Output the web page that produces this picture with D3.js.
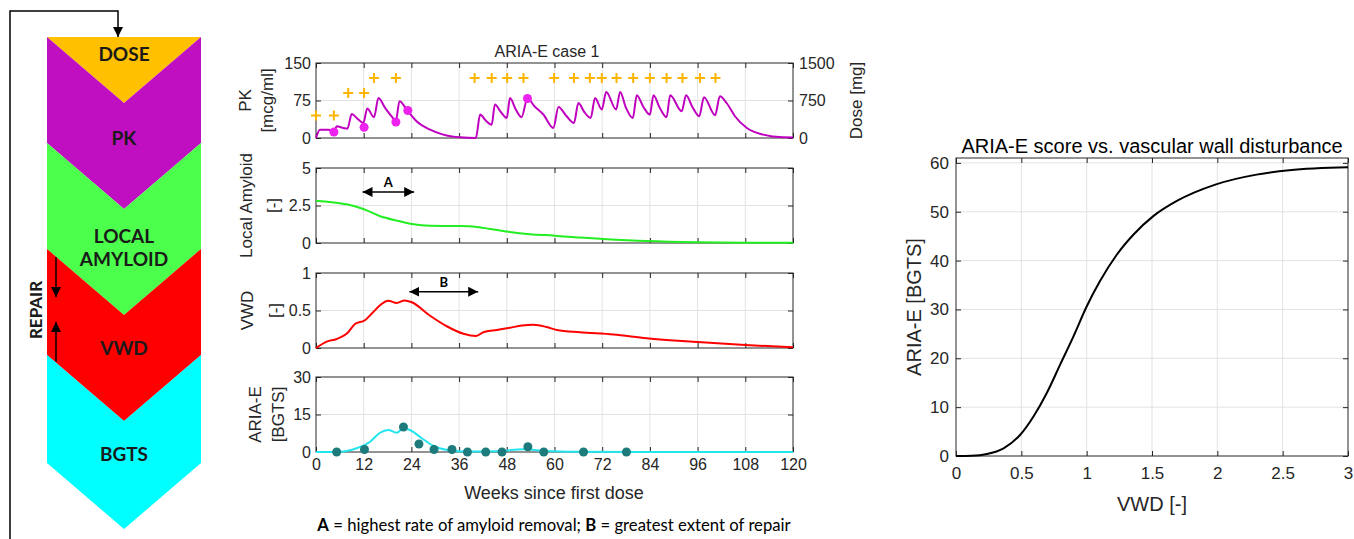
<!DOCTYPE html>
<html><head><meta charset="utf-8">
<script src="https://cdn.jsdelivr.net/npm/d3@7"></script>
<style>
body{margin:0;background:#fff;}
svg{display:block;font-family:"Liberation Sans",Arial,sans-serif;}
</style></head><body>
<svg id="fig" width="1354" height="539"></svg>
<script>
// ---- data ----
const flowLabels = [["DOSE"], ["PK"], ["LOCAL", "AMYLOID"], ["VWD"], ["BGTS"]];
const flowColors = ["#FFC000", "#C00FC0", "#4CFF4C", "#FF0000", "#00FFFF"];

const weekTicks = [0, 12, 24, 36, 48, 60, 72, 84, 96, 108, 120];

const doseWeek = [0, 4.5, 8.1, 12.1, 14.6, 20.1, 39.9, 44.2, 48.1, 52.2, 59.9, 64.9, 68.9, 71.9, 75.6, 79.8, 84, 88.2, 92.2, 96.6, 100.5];
const doseMg = [450, 450, 900, 900, 1200, 1200, 1200, 1200, 1200, 1200, 1200, 1200, 1200, 1200, 1200, 1200, 1200, 1200, 1200, 1200, 1200];

const pkWeek = [0, 1.0, 3.1, 4.5, 5.2, 6.9, 7.9, 9.0, 10.4, 11.9, 12.9, 14.6, 15.7, 17.4, 19.0, 20.1, 21.0, 22.8, 25.3, 28.7, 32, 36.2, 40.2,
  41.3, 42.7, 44.2, 45.0, 46.5, 48.0, 48.8, 50.2, 51.7, 53.2, 55.0, 57.2, 59.7, 61.0, 63.0, 64.9, 66.0, 67.5, 69.1, 70.2,
  71.9, 73.0, 75.5, 76.5, 78.0, 79.7, 80.7, 82.3, 84.0, 84.9, 86.5, 88.2, 89.1, 92.0, 93.1, 94.7, 96.4, 97.6, 100.4, 101.6,
  103.3, 105.4, 108.4, 112.5, 117.5, 120];
const pkConc = [0, 16.7, 16.7, 12, 23.4, 20, 18.7, 48, 38.7, 30, 59, 41.6, 80, 60, 43.5, 35, 73.5, 57, 33.5, 16.7, 6.7, 1.3, 0,
  46.8, 35, 26.7, 67, 52, 40, 80, 58, 41.6, 79, 63, 47, 20, 62, 44, 30, 70, 52, 40, 80,
  57, 92, 57, 92, 60, 40, 85.6, 63, 46.8, 85.6, 60, 41.6, 85.6, 53.5, 85.6, 62, 43.5, 81.6, 45.5, 83.6,
  70, 43.5, 20, 6.7, 1.3, 1];
const pkObsWeek = [4.5, 12.1, 20.1, 23.1, 53.2];
const pkObs = [12, 21.4, 32, 55, 79];

const amyWeek = [0, 4, 7.7, 11.9, 16, 20.3, 24.1, 28.7, 35.4, 40, 43.8, 47.9, 53.8, 60.1, 66.4, 72.2, 83.2, 96, 108, 120];
const amyVal = [2.82, 2.72, 2.58, 2.27, 1.8, 1.49, 1.27, 1.15, 1.13, 1.09, 0.93, 0.76, 0.58, 0.49, 0.36, 0.27, 0.13, 0.05, 0.02, 0.01];

const vwdWeek = [0, 2.7, 5.2, 8.1, 9.8, 12.3, 14.4, 16.1, 18.2, 20.3, 22.3, 24.1, 28.7, 32.9, 37.1, 40.3, 42.1, 45.5, 48.8,
  51.8, 54.7, 58, 60.6, 66.4, 74.8, 83.2, 96, 108, 120];
const vwdVal = [0, 0.085, 0.12, 0.21, 0.32, 0.37, 0.48, 0.57, 0.63, 0.6, 0.635, 0.61, 0.43, 0.29, 0.19, 0.16, 0.21, 0.24, 0.27,
  0.30, 0.31, 0.28, 0.24, 0.21, 0.18, 0.13, 0.08, 0.04, 0.01];

const ariaWeek = [0, 6, 10.2, 13.6, 16.1, 18.2, 20.3, 22, 24.1, 26.6, 29.6, 33, 37, 45.5, 52.2, 58, 66, 80, 120];
const ariaVal = [0, 0.1, 1.5, 4.1, 7.7, 8.8, 7.7, 9.5, 8.4, 5.5, 2.4, 0.8, 0.2, 0.3, 1.1, 0.4, 0.1, 0, 0];
const ariaObsWeek = [5.2, 12.2, 22, 25.9, 29.7, 34.2, 38.1, 42.7, 46.8, 53.3, 57.3, 67.3, 78.1];
const ariaObs = [0, 1, 10, 3.2, 1, 1, 0, 0, 0, 2.1, 0, 0, 0];

// annotation arrows: [start week, end week, level]
const arrowA = [11.7, 24.7, 3.4];
const arrowB = [23.5, 40.8, 0.75];

const curveVwd = [0, 0.12, 0.237, 0.364, 0.49, 0.593, 0.695, 0.797, 0.899, 1.0, 1.10, 1.23, 1.357, 1.51, 1.69, 1.99, 2.30, 2.55, 3.0];
const curveScore = [0, 0.05, 0.4, 1.57, 4.3, 8.1, 12.9, 18.7, 24.5, 30.6, 35.7, 41.2, 45.3, 49.1, 52.2, 55.6, 57.6, 58.5, 59.1];
const vwdTicks = [0, 0.5, 1, 1.5, 2, 2.5, 3];
const scoreTicks = [0, 10, 20, 30, 40, 50, 60];

// ---- drawing ----
const INK = '#262626', GRID = '#e2e2e2';
const svg = d3.select('#fig');
svg.append('rect').attr('width', 1354).attr('height', 539).attr('fill', '#fff');

const defs = svg.append('defs');
defs.append('marker').attr('id', 'ah').attr('viewBox', '0 0 10 10')
  .attr('refX', 10).attr('refY', 5).attr('markerWidth', 10).attr('markerHeight', 10)
  .attr('markerUnits', 'userSpaceOnUse').attr('orient', 'auto-start-reverse')
  .append('path').attr('d', 'M0,0 L10,5 L0,10 z').attr('fill', '#000');

// flow diagram on the left
const flow = svg.append('g').attr('class', 'flow');
const fx0 = 47, fx1 = 201, fcx = 124, depth = 66;
const sideTop = [37, 37, 143, 249, 355], sideBot = [37, 143, 249, 355, 463];
flowLabels.forEach((lab, i) => {
  const t = sideTop[i], b = sideBot[i], n = i === 0 ? 0 : depth;
  const pts = [[fx0, t], [fcx, t + n], [fx1, t], [fx1, b], [fcx, b + depth], [fx0, b]];
  flow.append('polygon').attr('points', pts.map(p => p.join(',')).join(' '))
    .attr('fill', flowColors[i]);
});
const labY = [[54], [138], [236, 259], [348], [454]];
flowLabels.forEach((lab, i) => {
  lab.forEach((s, j) => {
    flow.append('text').attr('x', fcx).attr('y', labY[i][j]).attr('dy', '0.36em')
      .attr('text-anchor', 'middle').attr('font-family', 'Lato, "Open Sans", sans-serif')
      .attr('font-weight', 700).attr('font-size', 19).attr('fill', '#1a1a1a').text(s);
  });
});
flow.append('path').attr('d', 'M10,539 V11 H118 V37').attr('fill', 'none')
  .attr('stroke', '#000').attr('stroke-width', 1.5).attr('marker-end', 'url(#ah)');
flow.append('line').attr('x1', 56).attr('y1', 257).attr('x2', 56).attr('y2', 297)
  .attr('stroke', '#000').attr('stroke-width', 1.5).attr('marker-end', 'url(#ah)');
flow.append('line').attr('x1', 56).attr('y1', 362).attr('x2', 56).attr('y2', 322)
  .attr('stroke', '#000').attr('stroke-width', 1.5).attr('marker-end', 'url(#ah)');
flow.append('text').attr('transform', 'translate(36,310) rotate(-90)').attr('dy', '0.36em')
  .attr('text-anchor', 'middle').attr('font-family', 'Lato, "Open Sans", sans-serif')
  .attr('font-weight', 700).attr('font-size', 17).attr('fill', '#1a1a1a').text('REPAIR');

// middle time-course panels
const xW = d3.scaleLinear().domain([0, 120]).range([316, 793]);
const PH = 75;
const panels = [
  { top: 63, dom: [0, 150], ticks: [0, 75, 150], lab: ['PK', '[mcg/ml]'], lx: [245, 267] },
  { top: 168, dom: [0, 5], ticks: [0, 2.5, 5], lab: ['Local Amyloid', '[-]'], lx: [246, 273] },
  { top: 273, dom: [0, 1], ticks: [0, 0.5, 1], lab: ['VWD', '[-]'], lx: [247, 275] },
  { top: 377, dom: [0, 30], ticks: [0, 15, 30], lab: ['ARIA-E', '[BGTS]'], lx: [255, 278] }
];

const styleAxis = (sel, fs) => {
  sel.select('.domain').remove();
  sel.selectAll('.tick line').attr('stroke', INK);
  sel.selectAll('.tick text').attr('fill', INK).attr('font-size', fs)
    .attr('font-family', '"Liberation Sans", Arial, sans-serif');
};

panels.forEach((p, i) => {
  p.y = d3.scaleLinear().domain(p.dom).range([p.top + PH, p.top]);
  const g = svg.append('g').attr('class', 'panel');
  g.selectAll('line.vg').data(weekTicks.slice(1, -1)).enter().append('line')
    .attr('x1', d => xW(d)).attr('x2', d => xW(d)).attr('y1', p.top).attr('y2', p.top + PH)
    .attr('stroke', GRID);
  g.append('line').attr('x1', 316).attr('x2', 793).attr('y1', p.y(p.ticks[1])).attr('y2', p.y(p.ticks[1]))
    .attr('stroke', GRID);

  const last = i === panels.length - 1;
  g.append('g').attr('transform', `translate(0,${p.top + PH})`)
    .call(d3.axisBottom(xW).tickValues(weekTicks).tickSize(-5).tickPadding(7)
      .tickFormat(last ? d3.format('d') : ''))
    .call(s => styleAxis(s, 16));
  g.append('g').attr('transform', `translate(0,${p.top})`)
    .call(d3.axisTop(xW).tickValues(weekTicks).tickSize(-5).tickFormat(''))
    .call(s => styleAxis(s, 16));
  g.append('g').attr('transform', 'translate(316,0)')
    .call(d3.axisLeft(p.y).tickValues(p.ticks).tickSize(-5).tickPadding(5).tickFormat(d3.format('~g')))
    .call(s => styleAxis(s, 16));
  g.append('rect').attr('x', 316).attr('y', p.top).attr('width', 793 - 316).attr('height', PH)
    .attr('fill', 'none').attr('stroke', INK).attr('stroke-width', 1);

  p.lab.forEach((s, j) => {
    g.append('text').attr('transform', `translate(${p.lx[j]},${p.top + PH / 2}) rotate(-90)`)
      .attr('dy', '0.36em').attr('text-anchor', 'middle').attr('font-size', 17).attr('fill', INK).text(s);
  });
  p.g = g;
});

// PK panel extras: dose axis on the right
const pkP = panels[0];
const yDose = d3.scaleLinear().domain([0, 1500]).range([pkP.top + PH, pkP.top]);
pkP.g.append('g').attr('transform', 'translate(793,0)')
  .call(d3.axisRight(yDose).tickValues([0, 750, 1500]).tickSize(-5).tickPadding(6).tickFormat(d3.format('d')))
  .call(s => styleAxis(s, 16));
pkP.g.append('text').attr('transform', `translate(856,${pkP.top + PH / 2}) rotate(-90)`)
  .attr('dy', '0.36em').attr('text-anchor', 'middle').attr('font-size', 17).attr('fill', INK).text('Dose [mg]');
svg.append('text').attr('x', 547).attr('y', 57).attr('text-anchor', 'middle')
  .attr('font-size', 16).attr('fill', INK).text('ARIA-E case 1');
// right-side ticks for the other panels
panels.slice(1).forEach(p => {
  p.g.append('g').attr('transform', 'translate(793,0)')
    .call(d3.axisRight(p.y).tickValues(p.ticks).tickSize(-5).tickFormat(''))
    .call(s => styleAxis(s, 16));
});

const series = (wk, v) => wk.map((w, k) => [w, v[k]]);
const lineOf = (p, curve) => d3.line().x(d => xW(d[0])).y(d => p.y(d[1])).curve(curve);

pkP.g.append('path').datum(series(pkWeek, pkConc)).attr('d', lineOf(pkP, d3.curveMonotoneX))
  .attr('fill', 'none').attr('stroke', '#BF00BF').attr('stroke-width', 2).attr('stroke-linejoin', 'round');
pkP.g.selectAll('circle.obs').data(series(pkObsWeek, pkObs)).enter().append('circle')
  .attr('cx', d => xW(d[0])).attr('cy', d => pkP.y(d[1])).attr('r', 4.5).attr('fill', '#EE22EE');
pkP.g.selectAll('path.dose').data(series(doseWeek, doseMg)).enter().append('path')
  .attr('transform', d => `translate(${xW(d[0])},${yDose(d[1])})`)
  .attr('d', 'M-5,0H5M0,-5V5').attr('stroke', '#FFB400').attr('stroke-width', 2);

const amyP = panels[1];
amyP.g.append('path').datum(series(amyWeek, amyVal)).attr('d', lineOf(amyP, d3.curveMonotoneX))
  .attr('fill', 'none').attr('stroke', '#22EE22').attr('stroke-width', 2);

const vwdP = panels[2];
vwdP.g.append('path').datum(series(vwdWeek, vwdVal)).attr('d', lineOf(vwdP, d3.curveMonotoneX))
  .attr('fill', 'none').attr('stroke', '#FF0000').attr('stroke-width', 2);

const ariaP = panels[3];
ariaP.g.append('path').datum(series(ariaWeek, ariaVal)).attr('d', lineOf(ariaP, d3.curveMonotoneX))
  .attr('fill', 'none').attr('stroke', '#22E5EE').attr('stroke-width', 2);
ariaP.g.selectAll('circle.obs').data(series(ariaObsWeek, ariaObs)).enter().append('circle')
  .attr('cx', d => xW(d[0])).attr('cy', d => ariaP.y(d[1])).attr('r', 4.5).attr('fill', '#1E7B7B');

// A / B double arrows
[[amyP, arrowA, 'A'], [vwdP, arrowB, 'B']].forEach(([p, a, t]) => {
  const yy = p.y(a[2]);
  p.g.append('line').attr('x1', xW(a[0])).attr('x2', xW(a[1])).attr('y1', yy).attr('y2', yy)
    .attr('stroke', '#000').attr('stroke-width', 1.3)
    .attr('marker-start', 'url(#ah)').attr('marker-end', 'url(#ah)');
  p.g.append('text').attr('x', xW((a[0] + a[1]) / 2)).attr('y', yy - 5)
    .attr('text-anchor', 'middle').attr('font-family', 'Lato, sans-serif').attr('font-weight', 700)
    .attr('font-size', 13).attr('fill', '#000').text(t);
});

svg.append('text').attr('x', 554).attr('y', 499).attr('text-anchor', 'middle')
  .attr('font-size', 18).attr('fill', INK).text('Weeks since first dose');

const note = svg.append('text').attr('x', 554).attr('y', 531).attr('text-anchor', 'middle')
  .attr('font-family', 'Lato, sans-serif').attr('font-size', 16.7).attr('fill', '#000');
note.append('tspan').attr('font-weight', 700).text('A');
note.append('tspan').text(' = highest rate of amyloid removal; ');
note.append('tspan').attr('font-weight', 700).text('B');
note.append('tspan').text(' = greatest extent of repair');

// right: ARIA-E score vs VWD
const rx = d3.scaleLinear().domain([0, 3]).range([956, 1348]);
const ry = d3.scaleLinear().domain([0, 61]).range([456, 158]);
const rg = svg.append('g').attr('class', 'right');
rg.selectAll('line.vg').data(vwdTicks.slice(1, -1)).enter().append('line')
  .attr('x1', d => rx(d)).attr('x2', d => rx(d)).attr('y1', 158).attr('y2', 456).attr('stroke', GRID);
rg.selectAll('line.hg').data(scoreTicks.slice(1)).enter().append('line')
  .attr('y1', d => ry(d)).attr('y2', d => ry(d)).attr('x1', 956).attr('x2', 1348).attr('stroke', GRID);
rg.append('g').attr('transform', 'translate(0,456)')
  .call(d3.axisBottom(rx).tickValues(vwdTicks).tickSize(-5).tickPadding(11).tickFormat(d3.format('~g')))
  .call(s => styleAxis(s, 17));
rg.append('g').attr('transform', 'translate(0,158)')
  .call(d3.axisTop(rx).tickValues(vwdTicks).tickSize(-5).tickFormat(''))
  .call(s => styleAxis(s, 17));
rg.append('g').attr('transform', 'translate(956,0)')
  .call(d3.axisLeft(ry).tickValues(scoreTicks).tickSize(-5).tickPadding(7))
  .call(s => styleAxis(s, 17));
rg.append('g').attr('transform', 'translate(1348,0)')
  .call(d3.axisRight(ry).tickValues(scoreTicks).tickSize(-5).tickFormat(''))
  .call(s => styleAxis(s, 17));
rg.append('rect').attr('x', 956).attr('y', 158).attr('width', 1348 - 956).attr('height', 456 - 158)
  .attr('fill', 'none').attr('stroke', INK);
rg.append('path').datum(series(curveVwd, curveScore))
  .attr('d', d3.line().x(d => rx(d[0])).y(d => ry(d[1])).curve(d3.curveMonotoneX))
  .attr('fill', 'none').attr('stroke', '#000').attr('stroke-width', 2);
rg.append('text').attr('x', 1152).attr('y', 153).attr('text-anchor', 'middle')
  .attr('font-size', 20).attr('fill', '#000').text('ARIA-E score vs. vascular wall disturbance');
rg.append('text').attr('x', 1152).attr('y', 511).attr('text-anchor', 'middle')
  .attr('font-size', 20).attr('fill', INK).text('VWD [-]');
rg.append('text').attr('transform', 'translate(914,307) rotate(-90)').attr('dy', '0.36em')
  .attr('text-anchor', 'middle').attr('font-size', 20).attr('fill', INK).text('ARIA-E [BGTS]');
</script>
</body></html>
